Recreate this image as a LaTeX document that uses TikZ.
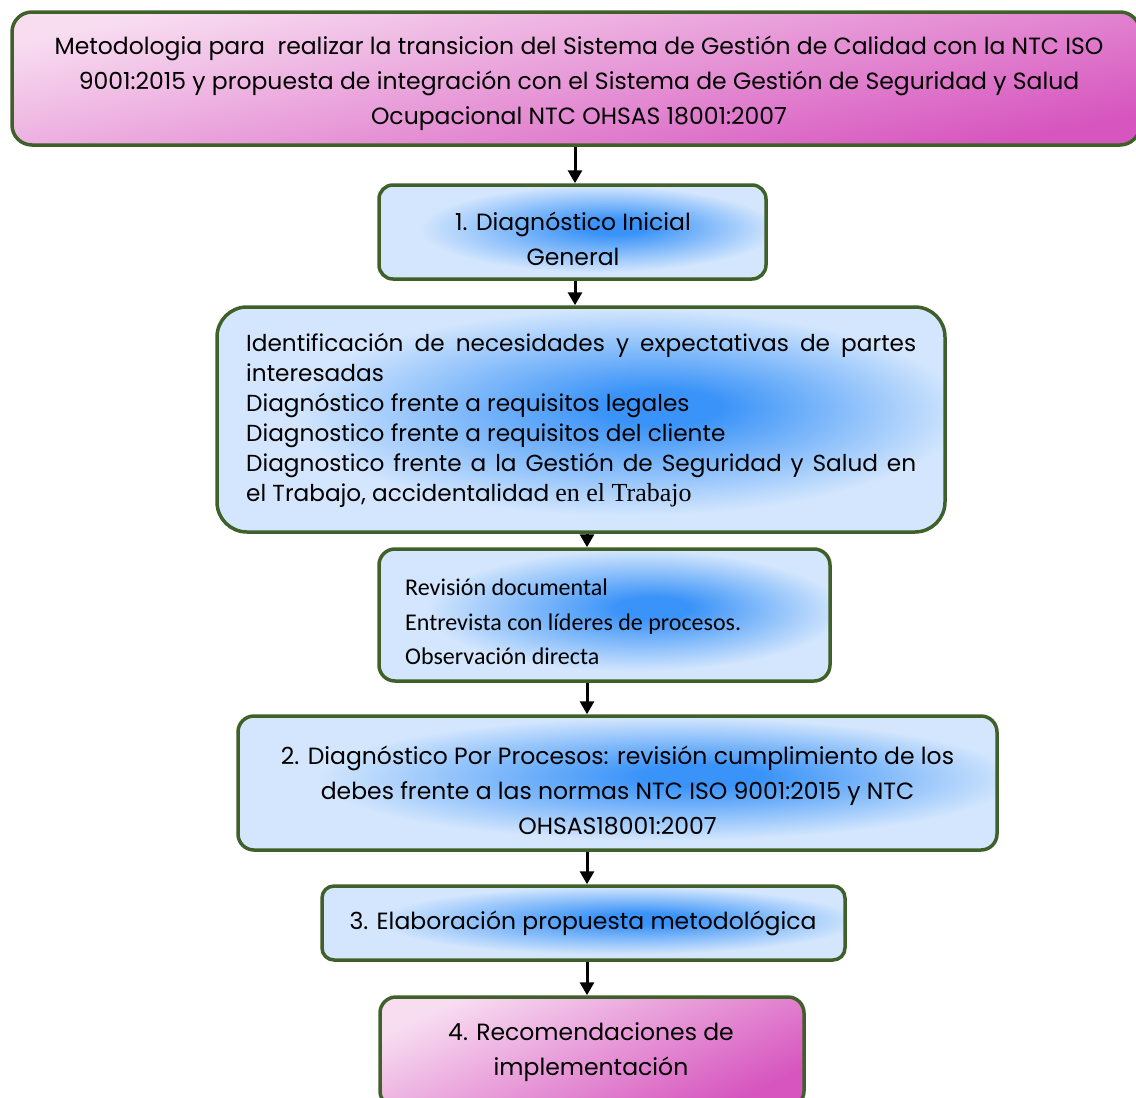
\documentclass[tikz,border=0pt]{standalone}
\usepackage{fontspec}
\setmainfont{Poppins}
\newfontfamily\calib{Carlito}
\newfontfamily\tnr{Liberation Serif}
\usetikzlibrary{arrows.meta}
\definecolor{pinkL}{HTML}{F8DDF1}
\definecolor{pinkD}{HTML}{D655BE}
\definecolor{blueL}{HTML}{D3E6FD}
\definecolor{blueG}{HTML}{3A93F8}
\definecolor{edge}{HTML}{40602A}
\pgfdeclareradialshading{glow}{\pgfpoint{6bp}{3bp}}{color(0bp)=(blueG); color(4bp)=(blueG); color(23bp)=(blueL); color(50bp)=(blueL)}
\begin{document}
\begin{tikzpicture}[x=1pt,y=-1pt,
  box/.style={draw=edge, line width=3.5pt, inner sep=0pt},
  pinkbox/.style={box, top color=pinkL, bottom color=pinkD, shading angle=#1},
  pinkbox/.default=30,
  bluebox/.style={box, shade, shading=glow},
  arr/.style={line width=3pt, -{Triangle[length=13pt,width=14pt]}},
  txt/.style={inner sep=0pt, align=center, font=\fontsize{23.5}{35}\selectfont}]
\useasboundingbox (0,0) rectangle (1136,1098);
% boxes
\node[pinkbox=12, rounded corners=20pt, minimum width=1128pt, minimum height=133pt] (top) at (576,78.5) {};
\node[bluebox, rounded corners=14pt, minimum width=387pt, minimum height=94pt] (b1) at (572.5,232) {};
\node[bluebox, rounded corners=30pt, minimum width=728pt, minimum height=225pt] (b3) at (581,419.5) {};
\node[bluebox, rounded corners=16pt, minimum width=451pt, minimum height=132pt] (b4) at (604.5,615) {};
\node[bluebox, rounded corners=16pt, minimum width=759pt, minimum height=134pt] (b5) at (617.5,783) {};
\node[bluebox, rounded corners=12pt, minimum width=523pt, minimum height=74pt] (b6) at (583.5,923) {};
\node[pinkbox=25, rounded corners=16pt, minimum width=424pt, minimum height=110pt] (b7) at (592,1052) {};
% texts
\node[txt] (t0) at (579,83) {Metodologia para\ \ realizar la transicion del Sistema de Gestión de Calidad con la NTC ISO\\9001:2015 y propuesta de integración con el Sistema de Gestión de Seguridad y Salud\\Ocupacional NTC OHSAS 18001:2007};
\node[txt] (t1) at (573,239) {1. Diagnóstico Inicial\\General};
\node[inner sep=0pt, anchor=west, text width=670pt, align=justify, font=\fontsize{23.2}{30}\selectfont] (t3) at (246,420) {Identificación de necesidades y expectativas de partes\linebreak interesadas\\Diagnóstico frente a requisitos legales\\Diagnostico frente a requisitos del cliente\\Diagnostico frente a la Gestión de Seguridad y Salud en\linebreak el Trabajo, accidentalidad {\tnr\fontsize{26}{30}\selectfont en el Trabajo}};
\node[inner sep=0pt, anchor=west, align=left, font=\calib\fontsize{24}{34.5}\selectfont] (t4) at (405,622) {Revisión documental\\Entrevista con líderes de procesos.\\Observación directa};
\node[txt] (t5) at (617.5,790) {2. Diagnóstico Por Procesos: revisión cumplimiento de los\\debes frente a las normas NTC ISO 9001:2015 y NTC\\OHSAS18001:2007};
\node[txt] (t6) at (583,923) {3. Elaboración propuesta metodológica};
\node[txt] (t7) at (591,1052) {4. Recomendaciones de\\implementación};
% connectors
\coordinate (xa) at (575,0);
\coordinate (xb) at (587,0);
\draw[arr] (top.south -| xa) -- (b1.north -| xa);
\draw[arr] (b1.south -| xa) -- (b3.north -| xa);
\draw[arr] (b3.south -| xb) -- (b4.north -| xb);
\draw[arr] (b4.south -| xb) -- (b5.north -| xb);
\draw[arr] (b5.south -| xb) -- (b6.north -| xb);
\draw[arr] (b6.south -| xb) -- (b7.north -| xb);
\end{tikzpicture}
\end{document}
